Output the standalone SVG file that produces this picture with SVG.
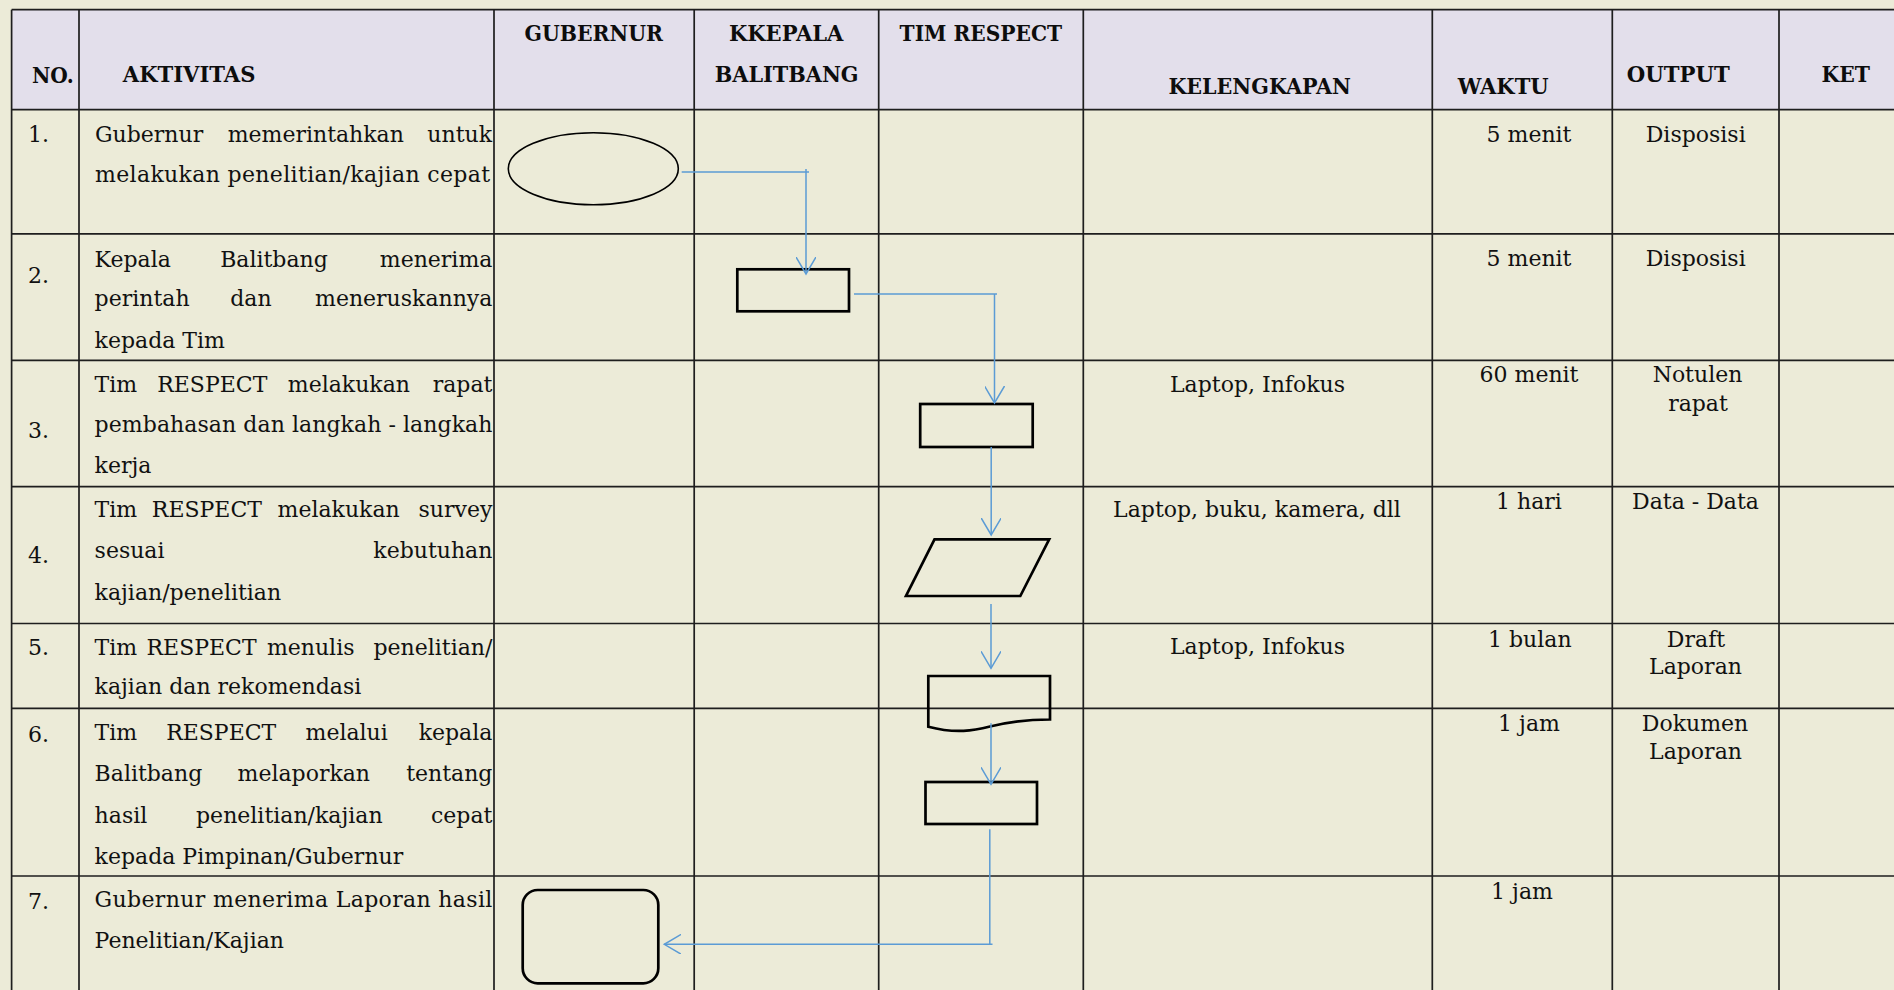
<svg xmlns="http://www.w3.org/2000/svg" width="1894" height="990" viewBox="0 0 1894 990">
<style>
.t{font-family:"DejaVu Serif","Liberation Serif",serif;font-size:22px;fill:#111}
.h{font-family:"DejaVu Serif","Liberation Serif",serif;font-size:22.5px;font-weight:bold;fill:#0d0d0d}
.c{text-anchor:middle}
.e{text-anchor:end}
.g{stroke:#1e1e1e;stroke-width:1.7;fill:none}
.s{fill:none;stroke:#000;stroke-width:2.7}
.k{fill:none;stroke:#5B9BD5;stroke-width:1.5}
</style>
<defs>
<marker id="arr" viewBox="0 0 20 20" refX="17" refY="10" markerWidth="20" markerHeight="20" orient="auto" markerUnits="userSpaceOnUse">
<path d="M0,0 L17,10 L0,20" fill="none" stroke="#5B9BD5" stroke-width="1.5"/>
</marker>
</defs>
<rect x="0" y="0" width="1894" height="990" fill="#ECEBD8"/>
<g id="table">
<rect x="11.6" y="9.7" width="1882.4" height="100" fill="#E3DFEB"/>
<path class="g" d="M11.6,9.7 H1894 M11.6,109.7 H1894 M11.6,233.8 H1894 M11.6,360.3 H1894 M11.6,486.7 H1894 M11.6,623.5 H1894 M11.6,708.3 H1894 M11.6,876 H1894"/>
<path class="g" d="M11.6,9.7 V990 M79,9.7 V990 M494,9.7 V990 M694.2,9.7 V990 M878.7,9.7 V990 M1083.3,9.7 V990 M1432.3,9.7 V990 M1612.3,9.7 V990 M1779,9.7 V990"/>
</g>
<g id="header">
<text class="h" x="32" y="82.7" textLength="41.7" lengthAdjust="spacingAndGlyphs">NO.</text>
<text class="h" x="122.8" y="81.7" textLength="132.6" lengthAdjust="spacingAndGlyphs">AKTIVITAS</text>
<text class="h" x="524.6" y="40.7" textLength="138.4" lengthAdjust="spacingAndGlyphs">GUBERNUR</text>
<text class="h" x="729" y="40.7" textLength="114.4" lengthAdjust="spacingAndGlyphs">KKEPALA</text>
<text class="h" x="714.8" y="81.7" textLength="143.8" lengthAdjust="spacingAndGlyphs">BALITBANG</text>
<text class="h" x="899.6" y="40.7" textLength="162.5" lengthAdjust="spacingAndGlyphs">TIM RESPECT</text>
<text class="h" x="1168.4" y="94" textLength="182.6" lengthAdjust="spacingAndGlyphs">KELENGKAPAN</text>
<text class="h" x="1457.7" y="94" textLength="91" lengthAdjust="spacingAndGlyphs">WAKTU</text>
<text class="h" x="1626.7" y="81.7" textLength="103" lengthAdjust="spacingAndGlyphs">OUTPUT</text>
<text class="h" x="1821.5" y="81.7" textLength="48.4" lengthAdjust="spacingAndGlyphs">KET</text>
</g>
<g id="row1">
<text class="t" x="28" y="142">1.</text>
<text class="t" x="95" y="141.7">Gubernur</text>
<text class="t c" x="315.8" y="141.7">memerintahkan</text>
<text class="t e" x="492" y="141.7">untuk</text>
<text class="t" x="95" y="181.7" textLength="395" lengthAdjust="spacing">melakukan penelitian/kajian cepat</text>
<text class="t c" x="1529" y="141.7">5 menit</text>
<text class="t c" x="1695.7" y="141.7">Disposisi</text>
</g>
<g id="row2">
<text class="t" x="28" y="283.3">2.</text>
<text class="t" x="94.6" y="266.7">Kepala</text>
<text class="t c" x="274" y="266.7">Balitbang</text>
<text class="t e" x="492.4" y="266.7">menerima</text>
<text class="t" x="94.6" y="306">perintah</text>
<text class="t c" x="250.9" y="306">dan</text>
<text class="t e" x="492.4" y="306">meneruskannya</text>
<text class="t" x="94.6" y="347.7">kepada Tim</text>
<text class="t c" x="1529" y="266">5 menit</text>
<text class="t c" x="1695.7" y="266">Disposisi</text>
</g>
<g id="row3">
<text class="t" x="28" y="438.3">3.</text>
<text class="t" x="94.6" y="391.7">Tim</text>
<text class="t c" x="212.3" y="391.7">RESPECT</text>
<text class="t c" x="348.9" y="391.7">melakukan</text>
<text class="t e" x="492.4" y="391.7">rapat</text>
<text class="t" x="94.6" y="431.7" textLength="397.8" lengthAdjust="spacing">pembahasan dan langkah - langkah</text>
<text class="t" x="94.6" y="473.3">kerja</text>
<text class="t c" x="1257.5" y="391.7">Laptop, Infokus</text>
<text class="t c" x="1529" y="382.3">60 menit</text>
<text class="t c" x="1697.5" y="382.3">Notulen</text>
<text class="t c" x="1698" y="410.5">rapat</text>
</g>
<g id="row4">
<text class="t" x="28" y="563.3">4.</text>
<text class="t" x="94.6" y="516.7">Tim</text>
<text class="t c" x="206.9" y="516.7">RESPECT</text>
<text class="t c" x="338.6" y="516.7">melakukan</text>
<text class="t e" x="492.4" y="516.7">survey</text>
<text class="t" x="94.6" y="558.3">sesuai</text>
<text class="t e" x="492.4" y="558.3">kebutuhan</text>
<text class="t" x="94.6" y="600">kajian/penelitian</text>
<text class="t c" x="1257" y="516.7">Laptop, buku, kamera, dll</text>
<text class="t c" x="1529" y="508.7">1 hari</text>
<text class="t c" x="1695.5" y="508.7">Data - Data</text>
</g>
<g id="row5">
<text class="t" x="28" y="655">5.</text>
<text class="t" x="94.6" y="655">Tim</text>
<text class="t c" x="201.6" y="655">RESPECT</text>
<text class="t c" x="310.7" y="655">menulis</text>
<text class="t e" x="492.4" y="655">penelitian/</text>
<text class="t" x="94.6" y="694">kajian dan rekomendasi</text>
<text class="t c" x="1257.5" y="654.3">Laptop, Infokus</text>
<text class="t c" x="1529.8" y="646.8">1 bulan</text>
<text class="t c" x="1696" y="646.8">Draft</text>
<text class="t c" x="1695.5" y="674.2">Laporan</text>
</g>
<g id="row6">
<text class="t" x="28" y="741.7">6.</text>
<text class="t" x="94.6" y="740">Tim</text>
<text class="t c" x="221.2" y="740">RESPECT</text>
<text class="t c" x="346.7" y="740">melalui</text>
<text class="t e" x="492.4" y="740">kepala</text>
<text class="t" x="94.6" y="780.7">Balitbang</text>
<text class="t c" x="303.8" y="780.7">melaporkan</text>
<text class="t e" x="492.4" y="780.7">tentang</text>
<text class="t" x="94.6" y="822.7">hasil</text>
<text class="t c" x="289.3" y="822.7">penelitian/kajian</text>
<text class="t e" x="492.4" y="822.7">cepat</text>
<text class="t" x="94.6" y="864.3">kepada Pimpinan/Gubernur</text>
<text class="t c" x="1529" y="731">1 jam</text>
<text class="t c" x="1695" y="731">Dokumen</text>
<text class="t c" x="1695.5" y="758.7">Laporan</text>
</g>
<g id="row7">
<text class="t" x="28" y="909.3">7.</text>
<text class="t" x="94.6" y="906.7" textLength="397.8" lengthAdjust="spacing">Gubernur menerima Laporan hasil</text>
<text class="t" x="94.6" y="948.3">Penelitian/Kajian</text>
<text class="t c" x="1522" y="898.9">1 jam</text>
</g>
<g id="node-start"><ellipse cx="593.3" cy="168.7" rx="85" ry="36" fill="none" stroke="#000" stroke-width="1.6"/></g>
<g id="node-kepala"><rect class="s" x="737.3" y="269.3" width="111.7" height="42"/></g>
<g id="node-rapat"><rect class="s" x="920.2" y="404" width="112.5" height="43"/></g>
<g id="node-survey"><polygon class="s" points="934.5,539.3 1049.2,539.3 1020.3,596 906,596"/></g>
<g id="node-draft"><path class="s" d="M928.3,676 H1050 V719.5 C1020,719.5 1004,723 990,726.5 C974,730.5 956,734 928.3,726.7 Z"/></g>
<g id="node-laporan"><rect class="s" x="925.5" y="782" width="111.5" height="42"/></g>
<g id="node-end"><rect class="s" x="522.7" y="890" width="135.6" height="93.3" rx="15" ry="15"/></g>
<g id="connectors">
<path class="k" d="M681.7,172 H809"/>
<path class="k" d="M806,169 V274" marker-end="url(#arr)"/>
<path class="k" d="M854,294 H997"/>
<path class="k" d="M994.5,294 V403" marker-end="url(#arr)"/>
<path class="k" d="M991.2,447 V535" marker-end="url(#arr)"/>
<path class="k" d="M991,604 V668.3" marker-end="url(#arr)"/>
<path class="k" d="M991,723.3 V784.3" marker-end="url(#arr)"/>
<path class="k" d="M989.8,829.3 V944.3"/>
<path class="k" d="M992.5,944.3 H664.3" marker-end="url(#arr)"/>
</g>
</svg>
